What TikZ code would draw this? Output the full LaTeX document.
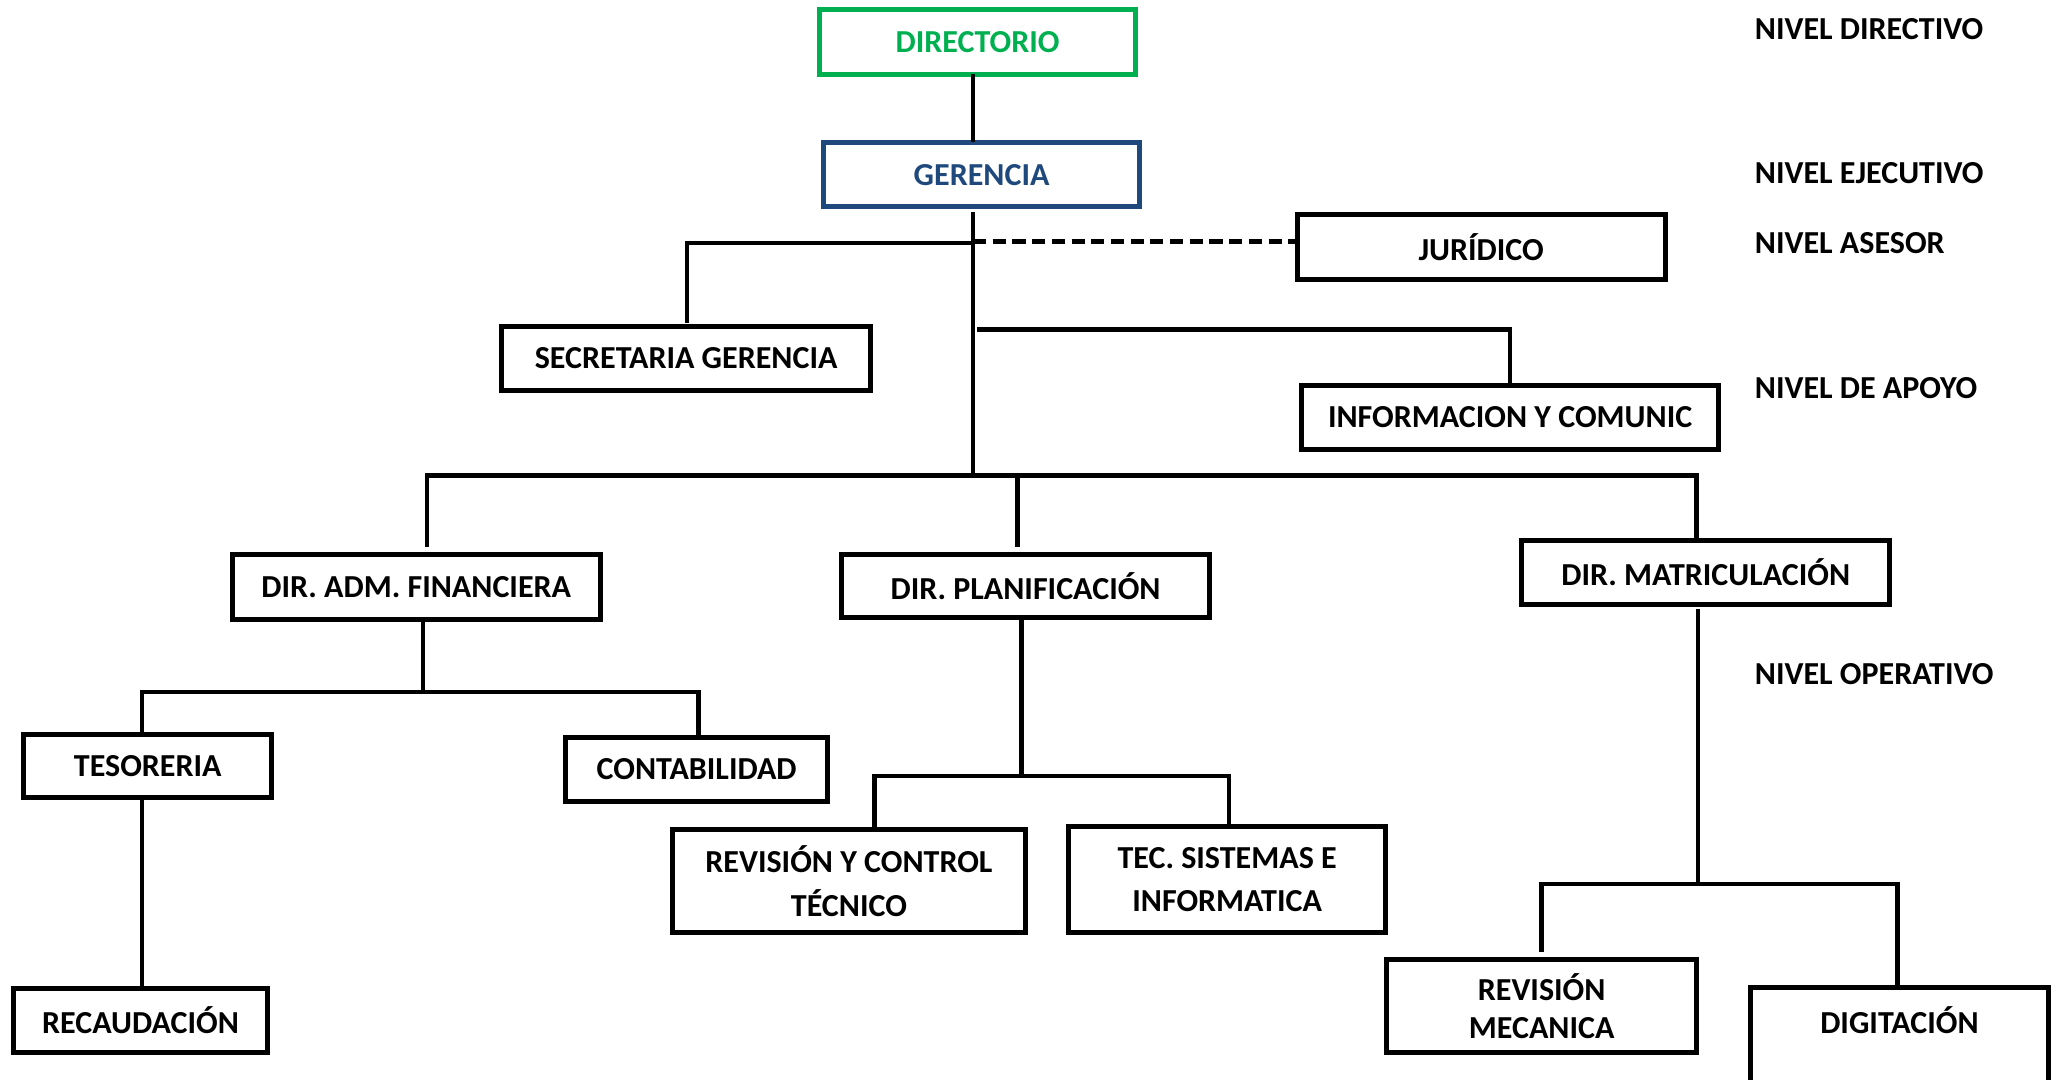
\documentclass[tikz,border=0pt]{standalone}
\usepackage{fontspec}
\setmainfont{Carlito}
\definecolor{dgreen}{RGB}{0,176,80}
\definecolor{dblue}{RGB}{31,73,125}
\tikzset{
  box/.style={draw=black, line width=1.9pt, rectangle, inner sep=0pt, align=center,
    font=\fontsize{12.2}{17}\selectfont\bfseries},
  lbl/.style={inner sep=0pt, font=\fontsize{12.2}{14}\selectfont\bfseries},
  lvl/.style={inner sep=0pt, anchor=west, font=\fontsize{12.2}{14}\selectfont\bfseries},
  conn/.style={line width=1.7pt, line cap=rect},
  dashconn/.style={line width=2pt, dash pattern=on 5pt off 2.5pt},
}
\begin{document}
\begin{tikzpicture}[x=0.5pt,y=-0.5pt]
\useasboundingbox (0,0) rectangle (1568,822);
% boxes
\node[box, draw=dgreen, text=dgreen, minimum width=120.5pt, minimum height=24.5pt] (dir) at (744.5,32) {DIRECTORIO};
\node[box, draw=dblue, text=dblue, minimum width=120.5pt, minimum height=24.5pt] (ger) at (747.5,133) {GERENCIA};
\node[box, minimum width=140pt, minimum height=24.5pt] (jur) at (1128,188) {JURÍDICO};
\node[box, minimum width=140.5pt, minimum height=24.5pt] (sec) at (522.5,273) {SECRETARIA GERENCIA};
\node[box, minimum width=159pt, minimum height=24.5pt] (info) at (1150,318) {INFORMACION Y COMUNIC};
\node[box, minimum width=140pt, minimum height=24.5pt] (adm) at (317,447) {DIR. ADM. FINANCIERA};
\node[box, minimum width=140pt, minimum height=24pt] (plan) at (781,446.5) {DIR. PLANIFICACIÓN};
\node[box, minimum width=140pt, minimum height=24.5pt] (mat) at (1299,436) {DIR. MATRICULACIÓN};
\node[box, minimum width=94.5pt, minimum height=24pt] (tes) at (112.5,583.5) {TESORERIA};
\node[box, minimum width=99.5pt, minimum height=24.5pt] (cont) at (530.5,586) {CONTABILIDAD};
\node[box, minimum width=97pt, minimum height=24.5pt] (rec) at (107,777) {RECAUDACIÓN};
\node[box, minimum width=134.5pt, minimum height=39.5pt] (rct) at (646.5,671) {REVISIÓN Y CONTROL\\TÉCNICO};
\node[box, minimum width=120.5pt, minimum height=40.5pt, font=\fontsize{12.2}{16.5}\selectfont\bfseries] (tsi) at (934.5,670) {TEC. SISTEMAS E\\INFORMATICA};
\node[box, minimum width=118pt, minimum height=35.5pt, font=\fontsize{12.2}{14.5}\selectfont\bfseries] (rm) at (1174,766) {REVISIÓN\\MECANICA};
\node[lbl] (dig) at (1446.5,777) {DIGITACIÓN};
\draw[line width=1.9pt] (1333,840) -- (1333,752) -- (1560,752) -- (1560,840);
% level labels
\node[lvl] (l1) at (1336,22.5) {NIVEL DIRECTIVO};
\node[lvl] (l2) at (1336,131.5) {NIVEL EJECUTIVO};
\node[lvl] (l3) at (1336,185.5) {NIVEL ASESOR};
\node[lvl] (l4) at (1336,295.5) {NIVEL DE APOYO};
\node[lvl] (l5) at (1336,513.5) {NIVEL OPERATIVO};
% junction coordinates
\coordinate (t0) at (741,163);
\coordinate (t1) at (741,185);
\coordinate (t2) at (741,362);
\coordinate (bL) at (325,362);
\coordinate (bM) at (775,362);
\coordinate (bR) at (1292,362);
\coordinate (s1) at (523,185);
\coordinate (i1) at (746,251);
\coordinate (a1) at (322,527);
\coordinate (aL) at (108,527);
\coordinate (aR) at (532,527);
\coordinate (p1) at (778,591);
\coordinate (pL) at (666,591);
\coordinate (pR) at (936,591);
\coordinate (m1) at (1293,673);
\coordinate (mL) at (1174,673);
\coordinate (mR) at (1445,673);
% connectors
\draw[conn] (dir.south -| 741,0) -- (ger.north -| 741,0);
\draw[conn] (t0) -- (t2);
\draw[conn] (t1) -- (s1) -- ([yshift=1pt]sec.north -| s1);
\draw[dashconn] (741,184) -- (jur.west |- 741,184);
\draw[conn] (i1) -| (info.north);
\draw[conn] (bL) -- (bR);
\draw[conn] (bL) -- ([yshift=3pt]adm.north -| bL);
\draw[conn] (bM) -- ([yshift=3pt]plan.north -| bM);
\draw[conn] (bR) -- (mat.north -| bR);
\draw[conn] (adm.south -| a1) -- (a1);
\draw[conn] (aL) -- (aR);
\draw[conn] (aL) -- (tes.north -| aL);
\draw[conn] (aR) -- (cont.north -| aR);
\draw[conn] (tes.south -| aL) -- (rec.north -| aL);
\draw[conn] (plan.south -| p1) -- (p1);
\draw[conn] (pL) -- (pR);
\draw[conn] (pL) -- (rct.north -| pL);
\draw[conn] (pR) -- (tsi.north -| pR);
\draw[conn] ([yshift=-1.5pt]mat.south -| m1) -- (m1);
\draw[conn] (mL) -- (mR);
\draw[conn] (mL) -- ([yshift=2.5pt]rm.north -| mL);
\draw[conn] (mR) -- (1445,752);
\end{tikzpicture}
\end{document}
